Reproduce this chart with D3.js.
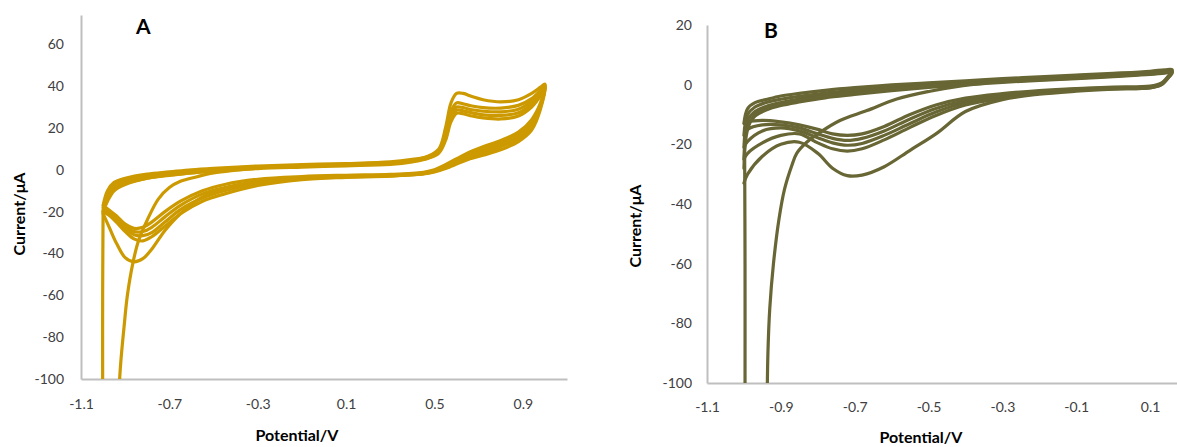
<!DOCTYPE html>
<html><head><meta charset="utf-8">
<script src="https://cdn.jsdelivr.net/npm/d3@7"></script>
<style>
body{margin:0;background:#fff;}
svg{display:block;}
text{font-family:Lato,"Open Sans",sans-serif;}
</style></head>
<body>
<svg id="chart" width="1177" height="447"></svg>
<script>
// ---------------- Panel A data ----------------
const xTicksA = [-1.1, -0.7, -0.3, 0.1, 0.5, 0.9];
const yTicksA = [-100, -80, -60, -40, -20, 0, 20, 40, 60];
const potA = [-1.0,-0.98,-0.95,-0.9,-0.8,-0.7,-0.6,-0.5,-0.3,-0.1,
  0.1,0.3,0.4,0.47,0.52,0.55,0.575,0.6,0.63,0.67,0.72,0.8,0.88,0.94,0.98,1.0,
  0.98,0.94,0.88,0.8,0.72,0.64,0.56,0.5,0.45,0.3,
  0.1,-0.1,-0.3,-0.45,-0.55,-0.65,-0.72,-0.78,-0.82,-0.86,-0.9,-0.94,-0.97,-1.0];
const cycA1 = [-20,-14,-9,-6.5,-4,-2.5,-1.5,-0.5,1,1.8, 2.5,3.2,4.5,6.5,10, 20,32,36.5,36.5,35, 33.5,32.5,33.5,36.5,39.5,41,
  29,19,13.5,9.6,7, 4.5,1,-1,-2,-3, -3.5,-4.3,-6.5,-9.5,-13, -21,-29,-38,-42.5,-44, -42,-35,-28,-21];
const cycA2 = [-17,-10,-6,-4,-2,-1,0,0.7,1.8,2.5, 3,3.8,5,6.3,9.5, 18,28,32,31.5,30.5, 29.7,29.5,30.8,34,38,40.5,
  32,24,18,14,11, 7.5,3,0,-1.2,-2.2, -2.6,-3.2,-4.5,-7,-10, -15,-20,-25,-27.5,-28, -26,-22,-19.5,-17];
const cycA3 = [-18,-11.5,-7,-4.8,-2.6,-1.5,-0.5,0.3,1.4,2.1, 2.7,3.4,4.6,6,9, 16.5,26,30,29.7,28.7, 28,27.7,29,32.8,37.2,40,
  31,22.5,16.8,13,10, 6.8,2.5,-0.3,-1.5,-2.5, -3,-3.7,-5.5,-8.5,-11.5, -17,-22.5,-27.5,-29.5,-29.5, -27,-23,-20,-18];
const cycA4 = [-19,-13,-8.5,-5.8,-3.3,-2.1,-1,-0.2,1,1.7, 2.3,3,4.2,5.7,8.5, 15,24.5,28.5,28.2,27.2, 26.3,26,27.3,31.4,36.3,39.5,
  30.5,21.5,15.8,12,9, 6,2,-0.6,-1.8,-2.7, -3.3,-4.2,-6.5,-10,-13.5, -19,-25,-30,-31.5,-31, -28,-24,-21,-19];
const cycA5 = [-20,-15,-10,-7,-4,-2.7,-1.5,-0.7,0.6,1.3, 1.9,2.6,3.8,5.4,8, 14,23,27,26.8,25.7, 24.8,24.3,25.7,30,35.3,39,
  30,20.5,14.8,11,8, 5.3,1.5,-0.8,-1.9,-2.9, -3.6,-4.7,-7.5,-11.5,-15, -21,-27,-32,-34,-33, -29.5,-25,-22,-20];
const vStartA = [-0.928,-0.92,-0.905,-0.89,-0.865,-0.84,-0.8,-0.75,-0.7,-0.65,-0.575,-0.5,-0.4,-0.3];
const iStartA = [-105,-92,-75,-60,-44.5,-34,-24,-14,-8.5,-5.5,-3.3,-1.5,-0.2,0.8];
const vVertA = [-1.002,-1.002,-1.0];
const iVertA = [-105,-60,-20];

// ---------------- Panel B data ----------------
const xTicksB = [-1.1, -0.9, -0.7, -0.5, -0.3, -0.1, 0.1];
const yTicksB = [-100, -80, -60, -40, -20, 0, 20];
const potB = [-1.0,-0.99,-0.97,-0.94,-0.9,-0.85,-0.78,-0.7,-0.6,-0.5,-0.4,-0.3,-0.2,-0.1,0.0,0.1,0.14,0.16,
  0.15,0.13,0.1,0.0,-0.1,-0.2,-0.3,-0.4,-0.48,-0.55,-0.62,-0.68,-0.72,-0.76,-0.8,-0.85,-0.9,-0.95,-0.99,-1.0];
const cycB1 = [-28,-15,-10,-8,-6.5,-5.2,-3.9,-2.8,-1.6,-0.5,0.3,1,1.6,2.2,2.9,3.6,4.1,4.2,
  2.5,0,-1,-1.5,-2.2,-3.2,-5,-9,-16.5,-22,-27.5,-30.3,-30.5,-28,-23,-19.3,-20,-24,-30,-33];
const cycB2 = [-13,-8,-6,-5,-3.8,-2.9,-1.9,-1,-0.1,0.6,1.3,2,2.6,3.2,3.8,4.5,5,5,
  3,0.5,-0.5,-0.8,-1.3,-2,-3,-4.5,-6.8,-10,-14,-16.5,-17,-16.5,-15,-13.5,-12.5,-12,-12.5,-13];
const cycB3 = [-17,-10,-7.5,-6,-4.9,-3.9,-2.8,-1.8,-0.7,0.2,0.9,1.6,2.2,2.8,3.4,4.1,4.6,4.6,
  2.8,0.3,-0.7,-1,-1.5,-2.3,-3.5,-5.3,-8,-11.5,-15.5,-18,-18.7,-18,-16.5,-14.5,-13.5,-13.5,-15,-17];
const cycB4 = [-21,-12,-9,-7.3,-6,-4.8,-3.6,-2.5,-1.3,-0.3,0.5,1.2,1.8,2.4,3,3.7,4.2,4.3,
  2.6,0.1,-0.9,-1.2,-1.7,-2.6,-4,-6,-9.2,-13,-17,-19.7,-20.3,-19.5,-17.8,-15.5,-14.5,-15.5,-19,-21];
const cycB5 = [-25,-14,-10.5,-8.5,-7,-5.8,-4.4,-3.3,-2,-0.9,0,0.8,1.4,2,2.7,3.4,3.9,4,
  2.4,-0.1,-1.1,-1.4,-1.9,-2.9,-4.5,-6.8,-10.3,-14.3,-18.5,-21.5,-22.3,-21.5,-19.5,-16.5,-17,-19.5,-23,-25];
const vStartB = [-0.937,-0.935,-0.93,-0.92,-0.905,-0.89,-0.87,-0.857,-0.83,-0.794,-0.74,-0.667,-0.586,-0.496,-0.42,-0.35];
const iStartB = [-105,-90,-75,-60,-45,-35,-27,-23,-19.3,-16,-12,-8.7,-4.8,-2.2,-0.6,0.4];
const vVertB = [-0.997,-0.997,-0.998];
const iVertB = [-105,-60,-24];

const svg = d3.select("#chart");
const hyphen = f => d => f(d).replace("\u2212", "-");

function panel(cfg) {
  const g = svg.append("g");
  const x = d3.scaleLinear().domain(cfg.xDomain).range(cfg.xRange);
  const y = d3.scaleLinear().domain(cfg.yDomain).range(cfg.yRange);
  const clipId = "clip" + cfg.id;
  svg.append("defs").append("clipPath").attr("id", clipId).append("rect")
    .attr("x", cfg.xRange[0]).attr("y", cfg.yRange[1])
    .attr("width", cfg.xRange[1] - cfg.xRange[0]).attr("height", cfg.yRange[0] - cfg.yRange[1]);

  const ya = g.append("g").attr("transform", `translate(${cfg.xRange[0]},0)`)
    .call(d3.axisLeft(y).tickValues(cfg.yTicks).tickSize(0).tickPadding(cfg.yPad).tickFormat(hyphen(d3.format("d"))));
  const xa = g.append("g").attr("transform", `translate(0,${cfg.yRange[0]})`)
    .call(d3.axisBottom(x).tickValues(cfg.xTicks).tickSize(0).tickPadding(cfg.xPad).tickFormat(hyphen(d3.format(".1f"))));
  [ya, xa].forEach(a => {
    a.select(".domain").attr("stroke", "#bfbfbf").attr("stroke-width", 2);
    a.selectAll("text").attr("font-size", 14).attr("fill", "#404040")
      .attr("font-family", "Lato, 'Open Sans', sans-serif");
  });

  const line = d3.line().x(d => x(d[0])).y(d => y(d[1])).curve(d3.curveCatmullRom.alpha(0.5));
  const lg = g.append("g").attr("clip-path", `url(#${clipId})`);
  cfg.series.forEach(s => {
    const pts = s.v.map((v, i) => [v, s.i[i]]);
    lg.append("path").attr("d", line(pts)).attr("fill", "none")
      .attr("stroke", cfg.color).attr("stroke-width", 3.2)
      .attr("stroke-linejoin", "round").attr("stroke-linecap", "round");
  });

  g.append("text").attr("x", cfg.letterX).attr("y", cfg.letterY).text(cfg.letter)
    .attr("font-size", 21).attr("font-weight", 700).attr("fill", "#000");
  g.append("text").attr("x", cfg.xTitle[0]).attr("y", cfg.xTitle[1]).attr("text-anchor", "middle")
    .attr("font-size", 16).attr("font-weight", 700).attr("fill", "#000").text("Potential/V");
  g.append("text").attr("transform", `translate(${cfg.yTitle[0]},${cfg.yTitle[1]}) rotate(-90)`)
    .attr("text-anchor", "middle").attr("font-size", 16).attr("font-weight", 700).attr("fill", "#000")
    .text("Current/μA");
}

panel({
  id: "A", xDomain: [-1.1, 1.1], xRange: [81, 567], yDomain: [-100, 74], yRange: [379, 15],
  xTicks: xTicksA, yTicks: yTicksA, yPad: 17, xPad: 20, color: "#cc9a00",
  letter: "A", letterX: 136, letterY: 34, xTitle: [297, 441], yTitle: [25, 214],
  series: [
    {v: potA, i: cycA5}, {v: potA, i: cycA4}, {v: potA, i: cycA3}, {v: potA, i: cycA2}, {v: potA, i: cycA1},
    {v: vStartA, i: iStartA}, {v: vVertA, i: iVertA}
  ]
});

panel({
  id: "B", xDomain: [-1.1, 0.2], xRange: [707, 1187], yDomain: [-100, 20], yRange: [383, 25],
  xTicks: xTicksB, yTicks: yTicksB, yPad: 15, xPad: 19, color: "#686634",
  letter: "B", letterX: 764, letterY: 38, xTitle: [921, 443], yTitle: [641, 226],
  series: [
    {v: potB, i: cycB5}, {v: potB, i: cycB4}, {v: potB, i: cycB3}, {v: potB, i: cycB2}, {v: potB, i: cycB1},
    {v: vStartB, i: iStartB}, {v: vVertB, i: iVertB}
  ]
});
</script>
</body></html>
